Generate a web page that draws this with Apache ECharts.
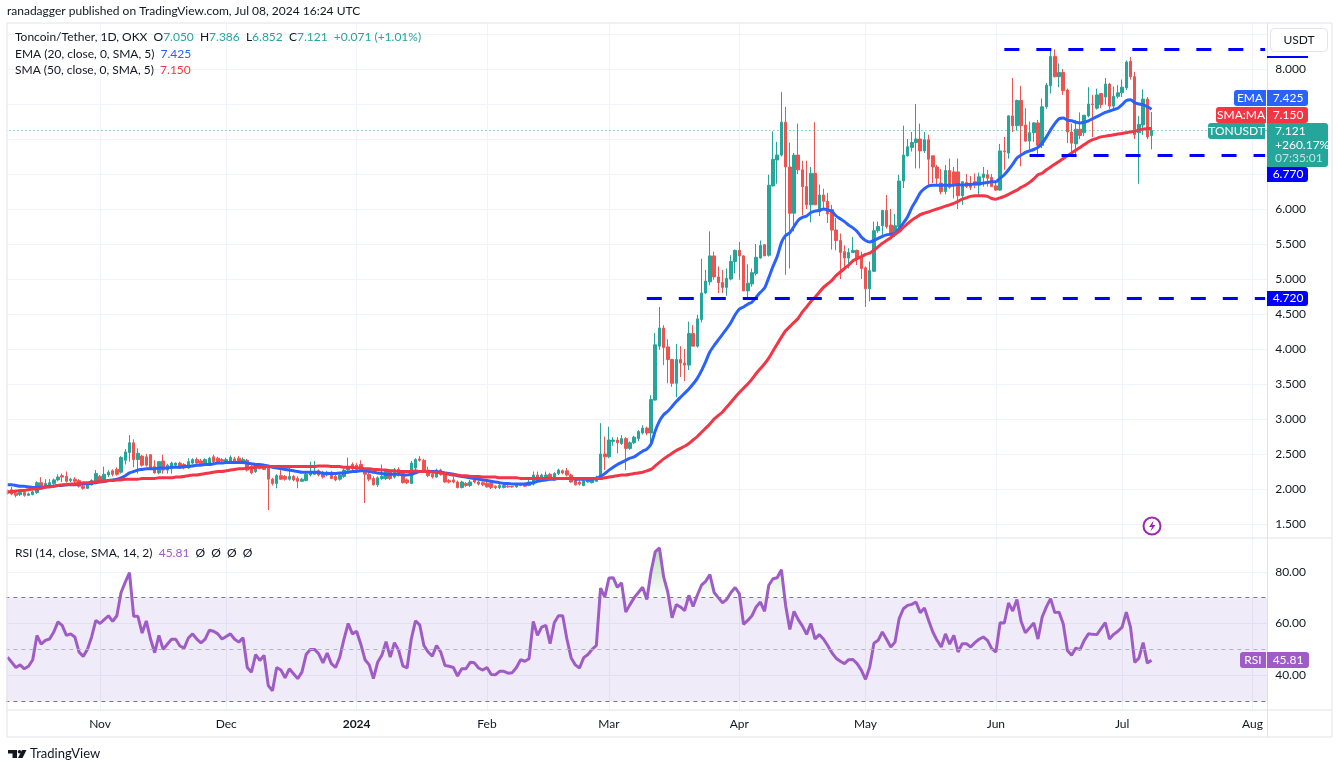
<!DOCTYPE html>
<html>
<head>
<meta charset="utf-8">
<title>Toncoin/Tether</title>
<script src="https://cdn.jsdelivr.net/npm/echarts@6/dist/echarts.min.js"></script>
<style>
  html, body { margin: 0; padding: 0; background: #fff; }
  #main { width: 1338px; height: 765px; }
</style>
</head>
<body>
<div id="main"></div>
<script>
// values, one per day starting 2023-10-10
const opens = [
  1.96,1.99,1.94,1.92,1.95,1.91,1.92,1.95,2.09,2.03,
  2.06,2.08,2.13,2.19,2.18,2.12,2.14,2.12,2.04,2.01,
  2.06,2.10,2.18,2.12,2.20,2.26,2.28,2.24,2.41,2.52,
  2.66,2.42,2.47,2.46,2.49,2.32,2.23,2.40,2.27,2.29,
  2.34,2.37,2.35,2.30,2.37,2.42,2.40,2.35,2.37,2.46,
  2.44,2.42,2.39,2.39,2.43,2.44,2.39,2.41,2.32,2.25,
  2.34,2.34,2.31,2.14,2.08,2.19,2.18,2.14,2.18,2.15,
  2.11,2.12,2.20,2.21,2.26,2.24,2.20,2.24,2.18,2.14,
  2.18,2.27,2.35,2.34,2.35,2.28,2.21,2.15,2.06,2.15,
  2.15,2.26,2.17,2.28,2.22,2.13,2.08,2.30,2.43,2.41,
  2.27,2.21,2.17,2.27,2.21,2.12,2.13,2.10,2.02,2.08,
  2.05,2.13,2.10,2.09,2.08,2.08,2.04,2.02,2.02,2.04,
  2.035,2.03,2.07,2.07,2.05,2.07,2.20,2.14,2.15,2.21,
  2.13,2.22,2.26,2.26,2.20,2.13,2.10,2.05,2.10,2.09,
  2.11,2.15,2.50,2.46,2.68,2.70,2.65,2.72,2.58,2.66,
  2.72,2.80,2.87,2.80,3.27,4.04,4.30,4.03,3.85,3.51,
  3.85,3.80,3.77,4.22,4.04,4.42,4.80,4.96,5.33,5.03,
  4.95,4.88,5.00,5.25,5.41,5.33,4.83,4.93,5.08,5.30,
  5.49,5.34,6.33,6.70,6.77,7.24,6.60,5.94,6.77,6.56,
  6.32,6.06,6.51,5.96,6.20,6.11,5.99,5.70,5.55,5.39,
  5.30,5.38,5.41,5.31,5.16,4.86,5.11,5.69,5.76,5.98,
  5.77,5.63,5.75,6.40,6.76,6.88,6.95,7.00,6.83,6.99,
  6.76,6.60,6.37,6.25,6.55,6.53,6.53,6.19,6.38,6.37,
  6.39,6.34,6.45,6.49,6.45,6.33,6.27,6.83,6.80,7.33,
  7.19,7.55,7.20,6.97,7.09,7.23,6.91,7.46,7.76,8.18,
  7.89,7.95,7.70,7.10,6.93,7.14,7.09,7.33,7.50,7.44,
  7.65,7.60,7.785,7.47,7.61,7.66,7.73,8.11,7.89,7.09,
  7.20,7.57,7.05
];
const closes = [
  1.94,1.93,1.91,1.95,1.91,1.93,1.96,2.09,2.03,2.08,
  2.09,2.13,2.17,2.17,2.11,2.14,2.11,2.04,2.01,2.07,
  2.12,2.22,2.12,2.21,2.24,2.21,2.21,2.45,2.53,2.66,
  2.42,2.51,2.34,2.34,2.30,2.23,2.39,2.27,2.34,2.37,
  2.37,2.30,2.30,2.39,2.42,2.37,2.34,2.42,2.44,2.39,
  2.39,2.40,2.42,2.45,2.40,2.39,2.42,2.27,2.23,2.32,
  2.30,2.28,2.14,2.08,2.19,2.14,2.14,2.18,2.13,2.11,
  2.14,2.21,2.25,2.25,2.20,2.17,2.24,2.15,2.13,2.20,
  2.27,2.32,2.29,2.28,2.28,2.21,2.14,2.06,2.16,2.18,
  2.26,2.15,2.27,2.20,2.09,2.09,2.37,2.42,2.41,2.25,
  2.19,2.17,2.27,2.21,2.10,2.10,2.10,2.02,2.10,2.05,
  2.10,2.10,2.07,2.06,2.03,2.02,2.02,2.05,2.05,2.03,
  2.03,2.06,2.05,2.04,2.10,2.20,2.14,2.20,2.20,2.15,
  2.22,2.27,2.23,2.20,2.10,2.06,2.07,2.12,2.12,2.13,
  2.17,2.50,2.46,2.70,2.70,2.66,2.72,2.58,2.66,2.74,
  2.82,2.87,2.80,3.28,4.06,4.30,4.02,3.85,3.51,3.85,
  3.80,3.77,4.22,4.04,4.43,4.80,4.97,5.33,5.03,4.95,
  4.88,5.01,5.25,5.41,5.33,4.83,4.94,5.09,5.31,5.48,
  5.33,6.34,6.71,6.77,7.24,6.60,5.94,6.77,6.56,6.32,
  6.06,6.51,6.06,6.20,6.11,5.93,5.70,5.55,5.38,5.30,
  5.38,5.41,5.30,5.15,4.86,5.12,5.69,5.75,5.98,5.75,
  5.63,5.76,6.40,6.77,6.89,6.95,7.00,6.83,6.99,6.71,
  6.60,6.44,6.25,6.55,6.31,6.34,6.19,6.39,6.32,6.31,
  6.34,6.46,6.50,6.44,6.32,6.27,6.83,6.82,7.33,7.19,
  7.55,7.19,6.97,7.09,7.23,6.91,7.46,7.77,8.18,7.89,
  7.95,7.69,7.10,6.94,7.14,7.05,7.34,7.50,7.49,7.63,
  7.49,7.785,7.47,7.61,7.66,7.74,8.10,7.89,7.06,7.21,
  7.57,7.03,7.121
];
const lows = [
  1.92,1.91,1.88,1.90,1.89,1.90,1.91,1.93,2.00,2.00,
  2.02,2.06,2.11,2.10,2.09,2.10,2.08,2.02,1.99,2.00,
  2.05,2.07,2.09,2.10,2.17,2.18,2.19,2.22,2.35,2.39,
  2.31,2.22,2.32,2.32,2.29,2.22,2.21,2.22,2.22,2.22,
  2.32,2.29,2.28,2.29,2.35,2.35,2.33,2.33,2.35,2.37,
  2.37,2.38,2.38,2.38,2.38,2.37,2.37,2.25,2.21,2.23,
  2.28,2.27,1.70,2.05,2.01,2.13,2.12,2.12,2.11,2.01,
  2.10,2.11,2.18,2.20,2.18,2.15,2.18,2.14,2.11,2.12,
  2.16,2.25,2.27,2.26,2.25,1.80,2.11,2.05,2.03,2.13,
  2.13,2.13,2.15,2.18,2.08,2.07,2.07,2.26,2.39,2.24,
  2.17,2.15,2.16,2.19,2.09,2.08,2.08,2.01,2.01,2.03,
  2.03,2.08,2.05,2.04,2.02,2.00,2.00,2.00,2.01,2.02,
  2.02,2.02,2.04,2.03,2.04,2.05,2.12,2.12,2.14,2.13,
  2.12,2.20,2.21,2.18,2.09,2.05,2.05,2.04,2.09,2.08,
  2.10,2.13,2.27,2.44,2.62,2.51,2.63,2.27,2.56,2.64,
  2.68,2.78,2.77,2.65,3.26,3.99,3.77,3.51,3.46,3.31,
  3.60,3.54,3.70,4.04,4.02,4.38,4.79,4.91,4.99,4.80,
  4.80,4.76,4.98,5.08,4.99,4.83,4.72,4.89,5.05,5.29,
  5.33,5.32,6.32,6.36,6.75,5.06,5.15,5.68,6.50,5.91,
  6.00,5.81,6.06,5.90,6.00,5.80,5.42,5.41,5.00,5.13,
  5.15,5.37,5.20,5.00,4.60,4.68,5.10,5.66,5.63,5.72,
  5.63,5.60,5.74,6.30,6.75,6.82,6.58,6.58,6.80,6.32,
  6.37,6.34,6.21,6.21,6.29,6.15,6.00,6.06,6.30,6.27,
  6.30,6.20,6.32,6.32,6.32,6.26,6.26,6.56,6.72,7.10,
  7.12,6.61,6.96,6.82,6.96,6.74,6.87,7.43,7.65,7.88,
  7.74,7.63,6.94,6.77,6.78,7.00,7.04,7.31,7.03,7.42,
  7.44,7.49,7.43,7.43,7.58,7.60,7.70,7.85,7.00,6.36,
  7.06,7.00,6.852
];
const highs = [
  1.99,2.03,1.96,1.97,1.96,1.95,1.98,2.11,2.17,2.14,
  2.14,2.15,2.21,2.22,2.25,2.16,2.17,2.14,2.07,2.09,
  2.14,2.27,2.20,2.32,2.27,2.28,2.31,2.47,2.57,2.77,
  2.71,2.58,2.49,2.50,2.50,2.41,2.40,2.49,2.36,2.39,
  2.38,2.39,2.37,2.44,2.44,2.45,2.43,2.44,2.46,2.49,
  2.46,2.44,2.45,2.48,2.46,2.47,2.45,2.43,2.34,2.34,
  2.36,2.36,2.33,2.16,2.21,2.27,2.20,2.30,2.20,2.18,
  2.16,2.23,2.39,2.40,2.28,2.26,2.26,2.26,2.20,2.22,
  2.29,2.45,2.38,2.37,2.41,2.30,2.24,2.18,2.18,2.35,
  2.28,2.28,2.30,2.31,2.24,2.15,2.40,2.44,2.47,2.43,
  2.32,2.24,2.29,2.29,2.23,2.14,2.18,2.12,2.12,2.10,
  2.13,2.15,2.12,2.11,2.10,2.10,2.05,2.07,2.07,2.06,
  2.04,2.08,2.08,2.09,2.13,2.25,2.25,2.22,2.25,2.23,
  2.24,2.29,2.28,2.30,2.22,2.14,2.12,2.13,2.14,2.15,
  2.19,2.94,2.75,2.89,2.74,2.74,2.77,2.74,2.68,2.76,
  2.84,2.91,2.89,3.34,4.23,4.60,4.34,4.14,3.86,4.07,
  4.04,4.00,4.39,4.34,4.49,5.29,5.13,5.68,5.39,5.18,
  5.13,5.15,5.34,5.42,5.53,5.34,5.21,5.15,5.50,5.55,
  5.50,6.49,7.11,6.96,7.67,7.46,6.95,6.80,7.22,6.69,
  6.69,6.60,7.24,6.35,6.29,6.23,6.06,5.87,5.65,5.48,
  5.44,5.60,5.42,5.39,5.18,5.25,5.82,5.82,5.98,6.20,
  6.00,5.93,6.49,7.19,7.00,7.10,7.50,7.22,7.10,7.06,
  6.76,6.63,6.57,6.63,6.72,6.60,6.72,6.39,6.50,6.47,
  6.51,6.52,6.60,6.56,6.50,6.38,6.93,7.03,7.34,7.87,
  7.56,7.76,7.44,7.25,7.24,7.27,7.58,7.80,8.27,8.28,
  8.08,8.00,7.72,7.22,7.27,7.38,7.34,7.74,7.63,7.72,
  7.65,7.87,7.80,7.75,7.77,7.85,8.12,8.17,7.96,7.33,
  7.71,7.60,7.386
];
const ema20 = [
  2.06,2.06,2.05,2.04,2.04,2.03,2.02,2.02,2.02,2.03,
  2.04,2.04,2.05,2.05,2.06,2.06,2.06,2.07,2.07,2.08,
  2.08,2.09,2.10,2.11,2.12,2.13,2.14,2.16,2.19,2.23,
  2.25,2.27,2.28,2.29,2.29,2.29,2.30,2.30,2.30,2.31,
  2.31,2.31,2.32,2.32,2.33,2.34,2.34,2.35,2.35,2.36,
  2.37,2.37,2.38,2.38,2.38,2.38,2.38,2.37,2.36,2.35,
  2.35,2.34,2.33,2.31,2.30,2.29,2.28,2.27,2.26,2.25,
  2.24,2.24,2.24,2.24,2.24,2.22,2.22,2.22,2.22,2.23,
  2.23,2.24,2.25,2.25,2.26,2.26,2.25,2.24,2.23,2.22,
  2.21,2.21,2.21,2.21,2.20,2.20,2.21,2.23,2.25,2.25,
  2.25,2.25,2.25,2.24,2.23,2.22,2.21,2.19,2.18,2.17,
  2.16,2.15,2.14,2.13,2.12,2.11,2.10,2.09,2.08,2.08,
  2.07,2.07,2.07,2.07,2.08,2.09,2.11,2.12,2.13,2.14,
  2.14,2.15,2.15,2.15,2.15,2.14,2.14,2.14,2.14,2.14,
  2.15,2.18,2.22,2.27,2.31,2.35,2.38,2.41,2.44,2.46,
  2.50,2.54,2.57,2.64,2.83,2.97,3.06,3.11,3.18,3.25,
  3.31,3.37,3.43,3.50,3.58,3.69,3.82,3.96,4.05,4.13,
  4.21,4.29,4.38,4.49,4.57,4.60,4.64,4.67,4.74,4.81,
  4.87,5.02,5.18,5.32,5.52,5.62,5.66,5.75,5.84,5.88,
  5.90,5.95,5.97,5.98,6.00,5.99,5.97,5.90,5.86,5.82,
  5.77,5.73,5.68,5.60,5.55,5.53,5.55,5.58,5.61,5.63,
  5.64,5.65,5.72,5.80,5.89,6.02,6.12,6.23,6.29,6.33,
  6.34,6.34,6.34,6.34,6.34,6.34,6.35,6.34,6.35,6.35,
  6.36,6.36,6.37,6.38,6.39,6.39,6.44,6.49,6.56,6.64,
  6.73,6.77,6.81,6.83,6.85,6.88,6.94,7.03,7.13,7.22,
  7.29,7.30,7.27,7.26,7.24,7.23,7.24,7.26,7.29,7.32,
  7.35,7.38,7.40,7.42,7.44,7.49,7.55,7.56,7.52,7.50,
  7.49,7.46,7.425
];
const sma50 = [
  1.96,1.96,1.97,1.98,1.98,1.99,2.00,2.00,2.01,2.03,
  2.03,2.04,2.05,2.06,2.06,2.07,2.07,2.08,2.09,2.09,
  2.10,2.10,2.11,2.11,2.12,2.12,2.13,2.13,2.14,2.14,
  2.14,2.14,2.15,2.15,2.15,2.15,2.16,2.16,2.16,2.16,
  2.17,2.17,2.18,2.19,2.20,2.20,2.21,2.22,2.23,2.24,
  2.25,2.25,2.26,2.27,2.28,2.29,2.29,2.30,2.30,2.31,
  2.31,2.32,2.32,2.32,2.32,2.32,2.32,2.32,2.32,2.32,
  2.32,2.32,2.32,2.32,2.33,2.33,2.33,2.32,2.32,2.32,
  2.31,2.31,2.31,2.30,2.30,2.29,2.29,2.28,2.28,2.27,
  2.27,2.26,2.26,2.25,2.25,2.25,2.25,2.26,2.25,2.25,
  2.25,2.24,2.24,2.23,2.22,2.21,2.20,2.20,2.19,2.19,
  2.18,2.18,2.18,2.17,2.17,2.17,2.17,2.16,2.16,2.16,
  2.16,2.16,2.15,2.15,2.15,2.15,2.15,2.15,2.15,2.15,
  2.15,2.15,2.15,2.15,2.15,2.15,2.15,2.15,2.15,2.15,
  2.15,2.15,2.16,2.17,2.18,2.19,2.20,2.20,2.21,2.22,
  2.23,2.24,2.26,2.28,2.33,2.38,2.43,2.47,2.51,2.55,
  2.58,2.61,2.65,2.70,2.75,2.81,2.87,2.93,3.00,3.05,
  3.10,3.17,3.24,3.31,3.38,3.44,3.50,3.57,3.65,3.72,
  3.79,3.87,3.97,4.07,4.17,4.26,4.32,4.38,4.44,4.53,
  4.60,4.68,4.74,4.81,4.88,4.93,4.98,5.05,5.10,5.15,
  5.20,5.26,5.29,5.32,5.35,5.37,5.41,5.46,5.51,5.55,
  5.59,5.64,5.68,5.74,5.79,5.84,5.88,5.92,5.94,5.96,
  5.98,6.00,6.02,6.04,6.06,6.08,6.11,6.14,6.16,6.18,
  6.19,6.19,6.19,6.18,6.15,6.14,6.16,6.18,6.21,6.24,
  6.27,6.31,6.34,6.38,6.43,6.49,6.51,6.56,6.60,6.64,
  6.68,6.72,6.76,6.80,6.84,6.88,6.92,6.96,6.99,7.01,
  7.03,7.04,7.05,7.06,7.07,7.08,7.09,7.10,7.11,7.13,
  7.14,7.15,7.15
];
const rsi14 = [
  47,45,43,44,42.5,43.5,46,55.4,52,53.5,
  54,56.7,60.6,59.3,55.4,56,54.8,49,47.3,50,
  54.8,61.2,60,61.5,63,60.8,63,72,76,79.7,
  62.8,62.8,56.3,61,54,48.7,55.4,50,52,53.9,
  53.9,51.3,50.5,54.4,56,54,52.5,54,57.4,57,
  56,54,55,56,53.9,52.8,54.5,43,41.2,48,
  45.7,47.7,36,34,43,42,39,42.5,40.6,38.7,
  41.2,48,50,50,48.3,44.8,48.6,44.5,43,47,
  54,60,56,57,52,46,44,38.7,45,47.7,
  53,47,52.6,49.6,43.6,42.8,54,61,59.5,51.5,
  49,47.4,51.5,49,43.8,43.5,43,39.7,42.5,42.5,
  45,44.8,42.8,42,43,40.3,40.2,41.5,41.5,40.8,
  41,43,46,45.4,46.4,60.8,55.4,58.6,59.3,52.2,
  60.3,63,63,54,46.8,44,42.8,46.8,48,50,
  51.5,73.7,70.2,77.6,77.7,74,75.7,64.4,67.3,70,
  72,74,69.3,80,87.7,89.2,78,72,62.2,67.3,
  66.4,65,70.9,66.6,70.9,74.8,76.3,78.9,72,70,
  68,69.3,72,73.9,71.5,59.7,61.2,63,66.4,68.3,
  64.7,74.8,77.3,77.7,80.8,67,57.7,64.7,61.5,59,
  55.8,60,54,55.7,54,51.5,48.7,46.6,45.4,44.5,
  46,46.1,44.5,42,38.4,43.2,52.4,53.5,56.7,53.9,
  50.9,52.8,61.9,65.7,67,67.4,68.3,64.2,66,61.2,
  56.7,53.5,50.9,56,52,55.4,49,52.2,52.2,50.9,
  52.6,53.9,54.8,53.5,50.3,49,60.3,60.2,67.9,64.8,
  69.3,60.8,56.4,58.3,60.2,54,62.5,66.4,69.6,64.2,
  64.4,59.9,49.6,47.7,50.5,49.9,53.5,56,55.8,55.7,
  58,60.3,54,55.8,57,58.6,64.4,58.6,45,46.6,
  52.6,44.7,45.81
];
const tickDates = ['2023-11-01','2023-12-01','2024-01-01','2024-02-01','2024-03-01','2024-04-01','2024-05-01','2024-06-01','2024-07-01','2024-08-01'];
const tickLabels = ['Nov','Dec','2024','Feb','Mar','Apr','May','Jun','Jul','Aug'];
const levelValues = [8.286, 6.77, 4.72];
const levelStarts = ['2024-06-03', '2024-06-09', '2024-03-10'];

const FONT = 'Lato, sans-serif';
const UP = '#26a69a', DOWN = '#ef5350', BLUE = '#2962ff', RED = '#f23645', PURPLE = '#a05cc6';
const TEXT = '#131722', BORDER = '#e0e3eb', SOFT = '#f0f3fa';

// 300 daily slots: the candles end on Jul 8, the axis runs on to Aug 4
const categories = [];
for (let i = 0; i < 300; i++) {
  categories.push(new Date(Date.UTC(2023, 9, 10 + i)).toISOString().slice(0, 10));
}
const lastDate = categories[categories.length - 1];
const candles = opens.map((o, i) => [o, closes[i], lows[i], highs[i]]);

function levelLine(value, i) {
  return [
    { coord: [levelStarts[i], value], lineStyle: { color: '#0000ff', width: 3, type: [15, 17] } },
    { coord: [lastDate, value] }
  ];
}

// title boxes carry 5px of padding, so left and top sit 5px before the text
function titleText(left, top, text, rich) {
  return { left: left - 5, top: top - 5, text, textStyle: { fontSize: 12, fontWeight: 'normal', color: TEXT, fontFamily: FONT, rich } };
}

function col(color) {
  return { color, fontSize: 12, fontFamily: FONT };
}

function box(x, y, w, h, fill, r) {
  return { type: 'rect', z: 100, silent: true, shape: { x, y, width: w, height: h, r: r || 0 }, style: { fill } };
}

function label(x, y, text, fill, align) {
  return {
    type: 'text', z: 101, silent: true,
    style: { x, y, text, fill, font: '12px ' + FONT, textAlign: align || 'center', textVerticalAlign: 'middle' }
  };
}

function lineSeries(name, data, color, x, y) {
  return {
    name, type: 'line', data, xAxisIndex: x, yAxisIndex: y, symbol: 'none', z: 4, smooth: 0.2,
    lineStyle: { color, width: 3 }, itemStyle: { color }
  };
}

const option = {
  animation: false,
  backgroundColor: '#fff',
  title: [
    titleText(7, 5, 'ranadagger published on TradingView.com, Jul 08, 2024 16:24 UTC'),
    titleText(15, 31, 'Toncoin/Tether, 1D, OKX  O{v|7.050}  H{v|7.386}  L{v|6.852}  C{v|7.121}  {v|+0.071 (+1.01%)}', { v: col(UP) }),
    titleText(15, 48, 'EMA (20, close, 0, SMA, 5)  {v|7.425}', { v: col(BLUE) }),
    titleText(15, 64, 'SMA (50, close, 0, SMA, 5)  {v|7.150}', { v: col(RED) }),
    titleText(15, 547, 'RSI (14, close, SMA, 14, 2)  {v|45.81}  \u00d8  \u00d8  \u00d8  \u00d8', { v: col(PURPLE) })
  ],
  grid: [
    { left: 5.4, width: 1261.8, top: 34, height: 490 },
    { left: 5.4, width: 1261.8, top: 520, height: 207 },
    { left: 7.5, width: 1257.6, top: 23, height: 687 }
  ],
  xAxis: [
    { type: 'category', data: categories, gridIndex: 0, show: false },
    { type: 'category', data: categories, gridIndex: 1, show: false },
    {
      type: 'category', data: categories, gridIndex: 2, boundaryGap: false,
      axisLine: { show: false },
      axisTick: { show: false },
      splitLine: { show: true, lineStyle: { color: SOFT }, interval: (i, v) => tickDates.includes(v) },
      axisLabel: {
        color: TEXT, fontSize: 12, fontFamily: FONT, margin: 8,
        interval: (i, v) => tickDates.includes(v),
        formatter: v => {
          const t = tickLabels[tickDates.indexOf(v)];
          return t === '2024' ? '{b|2024}' : t;
        },
        rich: { b: { fontWeight: 'bold', fontSize: 12, fontFamily: FONT, color: TEXT } }
      }
    }
  ],
  yAxis: [
    {
      type: 'value', gridIndex: 0, position: 'right', min: 1.5, max: 8.5, interval: 0.5,
      axisLine: { show: false }, axisTick: { show: false },
      splitLine: { lineStyle: { color: SOFT } },
      axisLabel: {
        color: TEXT, fontSize: 12, fontFamily: FONT, margin: 8,
        formatter: v => ([8.5, 7.5, 7, 6.5].includes(v) ? '' : v.toFixed(3))
      }
    },
    {
      type: 'value', gridIndex: 1, position: 'right', min: 20, max: 100, interval: 20,
      axisLine: { show: false }, axisTick: { show: false },
      splitLine: { showMinLine: false, showMaxLine: false, lineStyle: { color: SOFT } },
      axisLabel: {
        color: TEXT, fontSize: 12, fontFamily: FONT, margin: 8,
        formatter: v => (v === 20 || v === 100 ? '' : v.toFixed(2))
      }
    },
    { type: 'value', gridIndex: 2, show: false, splitLine: { show: false } }
  ],
  series: [
    {
      name: 'TONUSDT', type: 'candlestick', data: candles, xAxisIndex: 0, yAxisIndex: 0, barWidth: 3, z: 3,
      itemStyle: { color: UP, color0: DOWN, borderColor: UP, borderColor0: DOWN, borderWidth: 1 },
      markLine: {
        silent: true, symbol: 'none', animation: false, z: 6,
        label: { show: false },
        data: [
          ...levelValues.map(levelLine),
          { yAxis: closes[closes.length - 1], lineStyle: { color: UP, width: 1, type: [1, 3] } }
        ]
      }
    },
    lineSeries('EMA', ema20, BLUE, 0, 0),
    lineSeries('SMA', sma50, RED, 0, 0),
    {
      name: 'RSI', type: 'line', data: rsi14, xAxisIndex: 1, yAxisIndex: 1, symbol: 'none', z: 4,
      lineStyle: { color: PURPLE, width: 3 }, itemStyle: { color: PURPLE },
      markArea: {
        silent: true, animation: false,
        itemStyle: { color: 'rgba(126,87,194,0.12)' },
        data: [[{ yAxis: 30 }, { yAxis: 70 }]]
      },
      markLine: {
        silent: true, symbol: 'none', animation: false,
        label: { show: false },
        data: [
          { yAxis: 70, lineStyle: { color: '#787b86', width: 1, type: [4, 4] } },
          { yAxis: 50, lineStyle: { color: '#b2b5be', width: 1, type: [4, 4] } },
          { yAxis: 30, lineStyle: { color: '#787b86', width: 1, type: [4, 4] } }
        ]
      }
    },
    {
      name: 'RSI overbought', type: 'line', data: rsi14.map(v => Math.max(v, 70)), xAxisIndex: 1, yAxisIndex: 1,
      symbol: 'none', z: 3, lineStyle: { width: 0 },
      areaStyle: {
        origin: 70,
        color: new echarts.graphic.LinearGradient(0, 0, 0, 1, [
          { offset: 0, color: 'rgba(76,175,80,0.55)' },
          { offset: 1, color: 'rgba(76,175,80,0.03)' }
        ])
      }
    }
  ],
  graphic: [
    // covers the sliver of the bands left of the frame, then frame and pane separators
    box(0, 23, 6.5, 714, '#fff'),
    { type: 'rect', z: 100, silent: true, shape: { x: 7, y: 23, width: 1325, height: 714 }, style: { fill: 'none', stroke: BORDER, lineWidth: 1 } },
    { type: 'line', z: 1, silent: true, shape: { x1: 7, y1: 538, x2: 1332, y2: 538 }, style: { stroke: BORDER, lineWidth: 1 } },
    { type: 'line', z: 1, silent: true, shape: { x1: 7, y1: 710, x2: 1332, y2: 710 }, style: { stroke: BORDER, lineWidth: 1 } },
    { type: 'line', z: 1, silent: true, shape: { x1: 1267.5, y1: 23, x2: 1267.5, y2: 737 }, style: { stroke: BORDER, lineWidth: 1 } },

    // price scale tags
    box(1267, 56, 41, 2, '#0000ff'),
    { type: 'rect', z: 100, silent: true, shape: { x: 1270.5, y: 28.5, width: 57, height: 23, r: 4 }, style: { fill: '#fff', stroke: BORDER, lineWidth: 1 } },
    label(1299, 40, 'USDT', TEXT),
    box(1234, 90, 32, 16, BLUE, [3, 0, 0, 3]), label(1250, 98, 'EMA', '#fff'),
    box(1267, 90, 41, 16, BLUE, [0, 3, 3, 0]), label(1288, 98, '7.425', '#fff'),
    box(1216, 107, 50, 16, RED, [3, 0, 0, 3]), label(1241, 115, 'SMA:MA', '#fff'),
    box(1267, 107, 41, 16, RED, [0, 3, 3, 0]), label(1288, 115, '7.150', '#fff'),
    box(1208, 123, 57, 16, UP, [3, 0, 0, 3]), label(1236.5, 131, 'TONUSDT', '#fff'),
    box(1267, 123, 61, 44, UP, [0, 3, 3, 0]),
    label(1275, 131, '7.121', '#fff', 'left'),
    label(1275, 145, '+260.17%', '#fff', 'left'),
    label(1275, 158, '07:35:01', '#bfe5e1', 'left'),
    box(1267, 167, 41, 15, '#0000ff', [0, 3, 3, 0]), label(1288, 174.5, '6.770', '#fff'),
    box(1267, 291, 41, 15, '#0000ff', [0, 3, 3, 0]), label(1288, 298.5, '4.720', '#fff'),
    box(1240, 652, 26, 16, PURPLE, [3, 0, 0, 3]), label(1253, 660, 'RSI', '#fff'),
    box(1267, 652, 42, 16, PURPLE, [0, 3, 3, 0]), label(1288, 660, '45.81', '#fff'),

    // flash icon
    { type: 'circle', z: 100, silent: true, shape: { cx: 1152, cy: 526, r: 8.5 }, style: { fill: '#fff', stroke: '#9c27b0', lineWidth: 2 } },
    { type: 'polygon', z: 101, silent: true, shape: { points: [[1153.5, 520.5], [1149, 527], [1152, 527], [1150.5, 531.5], [1155.5, 525], [1152.5, 525]] }, style: { fill: '#9c27b0' } },

    // logo
    { type: 'polygon', z: 100, silent: true, shape: { points: [[8, 750], [17, 750], [17, 758], [12.5, 758], [12.5, 753.5], [8, 753.5]] }, style: { fill: TEXT } },
    { type: 'circle', z: 100, silent: true, shape: { cx: 19.5, cy: 751.8, r: 1.8 }, style: { fill: TEXT } },
    { type: 'polygon', z: 100, silent: true, shape: { points: [[22, 750], [26.5, 750], [22.5, 758], [18, 758]] }, style: { fill: TEXT } },
    { type: 'text', z: 100, silent: true, style: { x: 30, y: 754, text: 'TradingView', fill: TEXT, font: '13px ' + FONT, textVerticalAlign: 'middle' } }
  ]
};

const chart = echarts.init(document.getElementById('main'));
chart.setOption(option);
window.addEventListener('resize', () => chart.resize());
</script>
</body>
</html>
